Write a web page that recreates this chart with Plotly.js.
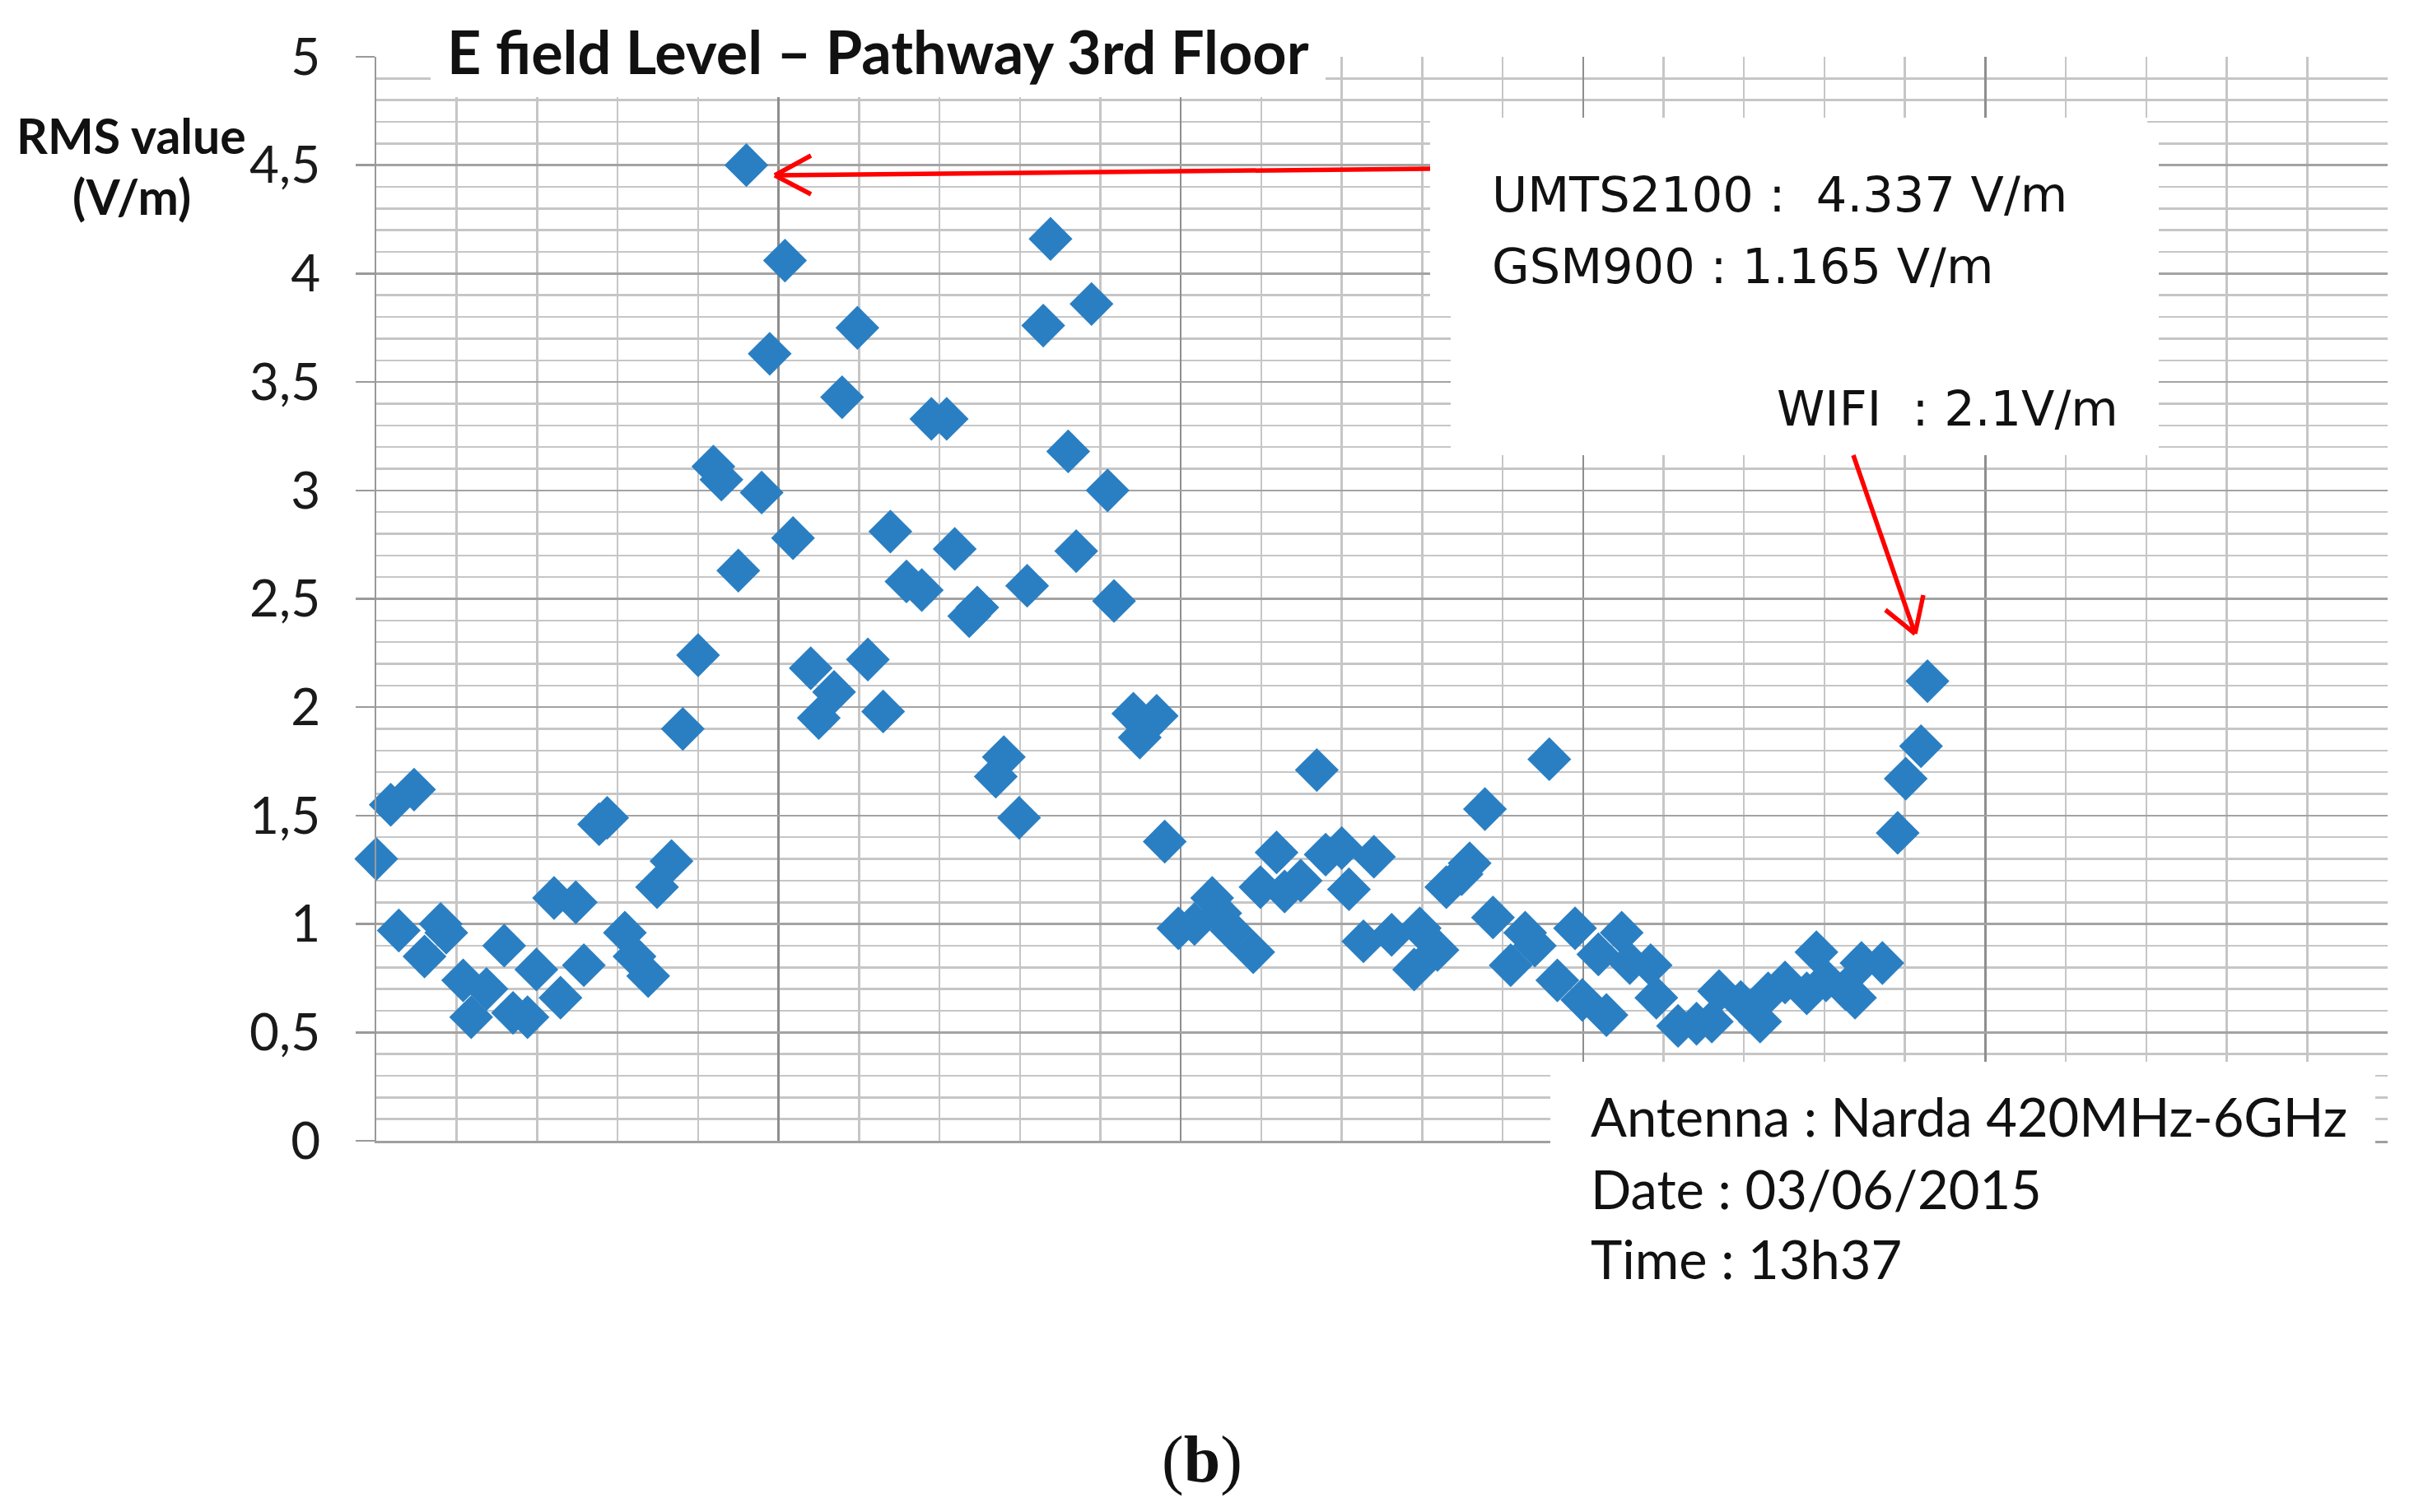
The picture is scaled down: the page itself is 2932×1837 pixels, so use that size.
<!DOCTYPE html>
<html>
<head>
<meta charset="utf-8">
<script src="https://cdn.plot.ly/plotly-3.0.1.min.js"></script>
<style>
  html, body { margin: 0; padding: 0; background: #ffffff; }
  #chart { width: 2932px; height: 1837px; }
</style>
</head>
<body>
<div id="chart"></div>
<script>
var measurementIndex = [
  0.0, 1.8, 2.8, 4.7, 6.0, 8.0, 8.7, 10.8, 11.8, 13.7, 15.9, 17.0, 18.8, 19.9,
  22.1, 22.9, 24.8, 25.8, 27.7, 28.7, 30.9, 32.1, 33.8, 34.9, 36.7, 38.1, 40.0,
  41.9, 42.9, 45.0, 46.0, 47.9, 48.9, 50.8, 51.8, 54.0, 55.0, 56.9, 57.9, 59.8,
  61.1, 63.0, 63.9, 65.9, 67.8, 69.0, 70.9, 71.9, 73.7, 74.7, 77.0, 78.0, 79.9,
  80.9, 82.9, 83.8, 86.0, 87.0, 88.9, 90.9, 91.7, 94.1, 94.9, 97.0, 98.0, 99.7,
  101.7, 103.9, 104.9, 106.3, 109.0, 109.9, 111.9, 112.9, 114.9, 116.9, 118.0,
  120.0, 120.9, 122.7, 124.0, 126.2, 129.0, 129.7, 131.9, 133.0, 134.9, 135.9,
  137.8, 138.8, 141.0, 142.8, 144.0, 145.8, 146.8, 149.0, 149.9, 151.9, 152.9,
  154.8, 155.8, 158.4, 159.1, 161.8, 164.1, 166.0, 166.9, 169.6, 172.0, 173.0,
  175.1, 177.8, 179.0, 180.2, 182.6, 183.8, 184.6, 187.2, 189.1, 190.1, 192.0, 192.8
];
var rmsValue = [
  1.30, 1.55, 0.97, 1.62, 0.85, 1.00, 0.96, 0.74, 0.57, 0.70, 0.90, 0.59, 0.57, 0.79,
  1.12, 0.66, 1.10, 0.81, 1.46, 1.49, 0.96, 0.85, 0.76, 1.17, 1.29, 1.90, 2.24,
  3.11, 3.05, 2.63, 4.50, 2.99, 3.63, 4.06, 2.78, 2.18, 1.95, 2.07, 3.43, 3.75,
  2.22, 1.98, 2.81, 2.58, 2.54, 3.33, 3.33, 2.73, 2.42, 2.46, 1.68, 1.77, 1.49,
  2.56, 3.76, 4.16, 3.18, 2.72, 3.86, 3.00, 2.49, 1.97, 1.86, 1.96, 1.38, 0.98,
  1.00, 1.12, 1.05, 0.97, 0.87, 1.17, 1.33, 1.15, 1.20, 1.71, 1.32,
  1.35, 1.16, 0.92, 1.31, 0.95, 0.79, 0.98, 0.88, 1.17, 1.23, 1.28,
  1.53, 1.03, 0.81, 0.96, 0.90, 1.76, 0.74, 0.98, 0.65, 0.86, 0.58,
  0.96, 0.82, 0.81, 0.66, 0.53, 0.54, 0.55, 0.69, 0.64, 0.55, 0.68,
  0.73, 0.68, 0.87, 0.74, 0.70, 0.66, 0.82, 0.82, 1.42, 1.67, 1.82, 2.12
];
var yTickValues = [0, 0.5, 1, 1.5, 2, 2.5, 3, 3.5, 4, 4.5, 5];

var chartTitle = 'E field Level \u2013 Pathway 3rd Floor';
var yLabelLines = ['RMS value', '(V/m)'];
var measureLines = ['UMTS2100 :\u00a0\u00a04.337 V/m', 'GSM900 : 1.165 V/m'];
var wifiLine = 'WIFI\u00a0\u00a0: 2.1V/m';
var infoLines = ['Antenna : Narda 420MHz-6GHz', 'Date : 03/06/2015', 'Time : 13h37'];
var panelLabel = '(<b>b</b>)';

// ---- layout geometry (pixels) ----
var W = 2932, H = 1837;
var M = { l: 457, r: 32, t: 69, b: 451 };
var plotW = W - M.l - M.r, plotH = H - M.t - M.b;
function px(x) { return (x - M.l) / plotW; }
function py(y) { return (H - M.b - y) / plotH; }

var whiteBoxes = [
  [523, -5, 1610, 118],
  [1737, 143, 2608, 360],
  [1762, 171, 2622, 553],
  [1883, 1290, 2885, 1660]
];
var shapes = whiteBoxes.map(function (b) {
  return { type: 'rect', xref: 'paper', yref: 'paper', layer: 'above',
    x0: px(b[0]), x1: px(b[2]), y0: py(b[3]), y1: py(b[1]),
    fillcolor: '#ffffff', line: { width: 0 } };
});
var redSegments = [
  [1737, 205, 941, 213], [941, 213, 985, 189], [941, 213, 985, 236],
  [2251, 553, 2326, 770], [2326, 770, 2290, 741], [2326, 770, 2336, 723]
];
redSegments.forEach(function (s) {
  shapes.push({ type: 'line', xref: 'paper', yref: 'paper', layer: 'above',
    x0: px(s[0]), y0: py(s[1]), x1: px(s[2]), y1: py(s[3]),
    line: { color: '#ff0000', width: 5.5 } });
});

function txt(text, x, y, xanchor, font) {
  return { text: text, xref: 'paper', yref: 'paper', x: px(x), y: py(y),
    xanchor: xanchor, yanchor: 'middle', showarrow: false, font: font };
}
var black = '#111111';
var annotations = [
  txt(chartTitle, 1066, 62, 'center', { family: 'Lato', size: 72, color: black, weight: 'bold' }),
  txt(yLabelLines[0], 159, 164, 'center', { family: 'Lato', size: 59, color: black, weight: 'bold' }),
  txt(yLabelLines[1], 160, 239, 'center', { family: 'Lato', size: 59, color: black, weight: 'bold' }),
  txt(measureLines[0], 1810, 237, 'left', { family: 'DejaVu Sans', size: 59, color: black }),
  txt(measureLines[1], 1810, 323, 'left', { family: 'DejaVu Sans', size: 59, color: black }),
  txt(wifiLine, 2156, 497, 'left', { family: 'DejaVu Sans', size: 59, color: black }),
  txt(infoLines[0], 1930, 1356, 'left', { family: 'Lato', size: 65, color: black }),
  txt(infoLines[1], 1930, 1444, 'left', { family: 'Lato', size: 65, color: black }),
  txt(infoLines[2], 1930, 1529, 'left', { family: 'Lato', size: 65, color: black }),
  txt(panelLabel, 1460, 1773, 'center', { family: 'Liberation Serif', size: 80, color: black })
];

var trace = {
  type: 'scatter', mode: 'markers',
  x: measurementIndex, y: rmsValue,
  marker: { symbol: 'diamond', size: 41, color: '#2a7fc3', line: { width: 0 } },
  hoverinfo: 'skip', cliponaxis: false
};

var layout = {
  width: W, height: H,
  margin: M,
  paper_bgcolor: '#ffffff', plot_bgcolor: '#ffffff',
  showlegend: false,
  separators: ', ',
  font: { family: 'Lato', color: black },
  xaxis: {
    range: [0, 250], dtick: 50, tick0: 0,
    showticklabels: false, ticks: '', zeroline: false,
    showgrid: true, gridcolor: '#8e8e8e', gridwidth: 2.5,
    minor: { dtick: 10, tick0: 0, showgrid: true, gridcolor: '#c6c6c6', gridwidth: 2.5, ticks: '' },
    showline: true, linecolor: '#a0a0a0', linewidth: 2.5
  },
  yaxis: {
    range: [0, 5], tickmode: 'array', tickvals: yTickValues,
    ticks: 'outside', ticklen: 23, tickwidth: 2.5, tickcolor: '#9a9a9a',
    ticklabelstandoff: 30,
    tickfont: { family: 'Lato', size: 62, color: '#1a1a1a' },
    zeroline: false,
    showgrid: true, gridcolor: '#a3a3a3', gridwidth: 2.5,
    minor: { dtick: 0.1, tick0: 0, showgrid: true, gridcolor: '#c6c6c6', gridwidth: 2.5, ticks: '' },
    showline: true, linecolor: '#999999', linewidth: 2.5
  },
  shapes: shapes,
  annotations: annotations
};

Plotly.newPlot('chart', [trace], layout, { staticPlot: true, displayModeBar: false });
</script>
</body>
</html>
